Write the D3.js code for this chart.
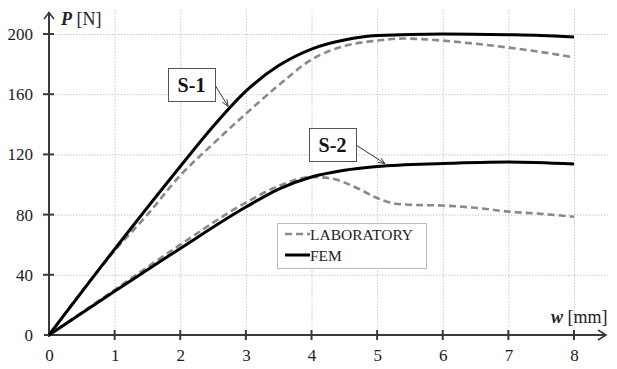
<!DOCTYPE html>
<html>
<head>
<meta charset="utf-8">
<script src="https://cdn.jsdelivr.net/npm/d3@7"></script>
<style>
  body { margin: 0; background: #fff; }
  svg text { font-family: "Liberation Serif", "Times New Roman", serif; }
</style>
</head>
<body>
<div id="chart"></div>
<script>
// values (w in mm, P in N)
const s1Fem = [[0, 0], [1, 57], [2, 112], [2.5, 138.5], [3, 162], [3.5, 179], [4, 190], [4.5, 196], [5, 199], [6, 200], [7, 199.5], [7.5, 199], [8, 198]]
const s1Lab = [[0, 0], [1, 56], [1.5, 80], [2, 106], [2.5, 127], [3, 147], [3.5, 166], [4, 183], [4.5, 192], [5, 195.6], [5.4, 197], [6, 195.6], [6.5, 193.5], [7, 191], [7.5, 188], [8, 184.5]]
const s2Fem = [[0, 0], [1, 29], [2, 57.5], [3, 85], [3.5, 97], [4, 105], [4.5, 109.5], [5, 112], [6, 114], [7, 115], [8, 113.6]]
const s2Lab = [[0, 0], [1, 30], [2, 60], [3, 88], [3.5, 99], [4, 105], [4.3, 104], [4.7, 97.5], [5, 91], [5.25, 87.5], [5.5, 86.5], [6, 86], [6.5, 84.5], [7, 82], [7.5, 80.5], [8, 78.6]]
const xTicks = [0, 1, 2, 3, 4, 5, 6, 7, 8]
const yTicks = [0, 40, 80, 120, 160, 200]
const legendLabels = ["LABORATORY", "FEM"]

const width = 617
const height = 369
const serif = "Liberation Serif, Times New Roman, serif"

const x = d3.scaleLinear().domain([0, 8]).range([49, 574])
const y = d3.scaleLinear().domain([0, 200]).range([335, 34])

const svg = d3.select("#chart")
  .append("svg")
    .attr("width", width)
    .attr("height", height)
    .attr("font-family", serif)

svg.append("rect").attr("width", width).attr("height", height).attr("fill", "#fff")

// grid
const grid = svg.append("g")
  .attr("stroke", "#c8c8c8")
  .attr("stroke-width", 1)
  .attr("stroke-dasharray", "1.5,1.5")
grid.selectAll("line.v")
  .data(xTicks.slice(1))
  .join("line")
    .attr("class", "v")
    .attr("x1", d => x(d) + 0.5).attr("x2", d => x(d) + 0.5)
    .attr("y1", y(0)).attr("y2", 10)
grid.selectAll("line.h")
  .data(yTicks.slice(1))
  .join("line")
    .attr("class", "h")
    .attr("x1", x(0)).attr("x2", 608)
    .attr("y1", d => y(d) + 0.5).attr("y2", d => y(d) + 0.5)

// axes
const axisColor = "#3a3a3a"
const xAxis = svg.append("g")
  .attr("transform", `translate(0,${y(0)})`)
  .call(d3.axisBottom(x).tickValues(xTicks).tickSize(0).tickPadding(14).tickFormat(d3.format("d")))
  .attr("font-family", serif)
  .attr("font-size", 17)
xAxis.select(".domain").remove()
xAxis.selectAll(".tick text").attr("fill", "#222")

const yAxis = svg.append("g")
  .attr("transform", `translate(${x(0)},0)`)
  .call(d3.axisLeft(y).tickValues(yTicks).tickSize(0).tickPadding(16).tickFormat(d3.format("d")))
  .attr("font-family", serif)
  .attr("font-size", 17)
yAxis.select(".domain").remove()
yAxis.selectAll(".tick text").attr("fill", "#222")

const axes = svg.append("g").attr("stroke", axisColor).attr("fill", "none").attr("stroke-width", 2)
axes.append("line").attr("x1", x(0) - 5).attr("x2", 606).attr("y1", y(0)).attr("y2", y(0))
axes.append("line").attr("x1", x(0)).attr("x2", x(0)).attr("y1", y(0) + 2).attr("y2", 12)
axes.append("path").attr("stroke-width", 1.6).attr("d", `M${x(0) - 5},19 L${x(0)},12.5 L${x(0) + 5},19`)
axes.append("path").attr("stroke-width", 1.6).attr("d", `M598,${y(0) - 5} L606,${y(0)} L598,${y(0) + 5}`)
axes.selectAll("line.xt")
  .data(xTicks.slice(1))
  .join("line")
    .attr("x1", d => x(d)).attr("x2", d => x(d))
    .attr("y1", y(0) - 5).attr("y2", y(0) + 5)
axes.selectAll("line.yt")
  .data(yTicks.slice(1))
  .join("line")
    .attr("x1", x(0) - 6).attr("x2", x(0) + 5)
    .attr("y1", d => y(d)).attr("y2", d => y(d))

// axis titles
const pLabel = svg.append("text").attr("x", 61).attr("y", 25).style("font-size", "18px").attr("fill", "#222")
pLabel.append("tspan").attr("font-weight", "bold").attr("font-style", "italic").text("P")
pLabel.append("tspan").text(" [N]")
const wLabel = svg.append("text").attr("x", 551).attr("y", 323).style("font-size", "18px").attr("fill", "#222")
wLabel.append("tspan").attr("font-weight", "bold").attr("font-style", "italic").text("w")
wLabel.append("tspan").text(" [mm]")

// curves
const line = d3.line()
  .x(d => x(d[0]))
  .y(d => y(d[1]))
  .curve(d3.curveMonotoneX)

const labStyle = p => p.attr("fill", "none").attr("stroke", "#8a8a8a").attr("stroke-width", 2.6).attr("stroke-dasharray", "7,4")
const femStyle = p => p.attr("fill", "none").attr("stroke", "#000").attr("stroke-width", 3)

svg.append("path").datum(s1Lab).attr("d", line).call(labStyle)
svg.append("path").datum(s2Lab).attr("d", line).call(labStyle)
svg.append("path").datum(s1Fem).attr("d", line).call(femStyle)
svg.append("path").datum(s2Fem).attr("d", line).call(femStyle)

// callouts
svg.append("defs").append("marker")
  .attr("id", "arr")
  .attr("viewBox", "0 0 10 10")
  .attr("refX", 10).attr("refY", 5)
  .attr("markerWidth", 7).attr("markerHeight", 7)
  .attr("orient", "auto")
  .append("path")
    .attr("d", "M0,1 L10,5 L0,9")
    .attr("fill", "none")
    .attr("stroke", "#333")
    .attr("stroke-width", 1.2)

const callouts = [
  { text: "S-1", bx: 168, by: 68, at: [2.73, 150.5] },
  { text: "S-2", bx: 309, by: 128, at: [5.12, 112.5] }
]
callouts.forEach(c => {
  const g = svg.append("g")
  g.append("line")
    .attr("x1", c.bx + 47).attr("y1", c.by + 17)
    .attr("x2", x(c.at[0])).attr("y2", y(c.at[1]) - 2)
    .attr("stroke", "#333").attr("stroke-width", 1)
    .attr("marker-end", "url(#arr)")
  g.append("rect")
    .attr("x", c.bx + 0.5).attr("y", c.by + 0.5)
    .attr("width", 47).attr("height", 33)
    .attr("fill", "#fff").attr("stroke", "#555").attr("stroke-width", 1)
  g.append("text")
    .attr("x", c.bx + 23.5).attr("y", c.by + 24)
    .attr("text-anchor", "middle")
    .attr("font-weight", "bold")
    .style("font-size", "20px")
    .attr("fill", "#111")
    .text(c.text)
})

// legend
const legend = svg.append("g").attr("transform", "translate(277,223)")
legend.append("rect")
  .attr("x", 0.5).attr("y", 0.5)
  .attr("width", 149).attr("height", 45)
  .attr("fill", "#fff").attr("stroke", "#bbb")
const items = legend.selectAll("g.item")
  .data(legendLabels)
  .join("g")
    .attr("transform", (d, i) => `translate(0,${11 + i * 21})`)
items.append("line")
  .attr("x1", 8).attr("x2", 33).attr("y1", 0).attr("y2", 0)
  .each(function (d, i) { d3.select(this).call(i === 0 ? labStyle : femStyle) })
items.append("text")
  .attr("x", 33).attr("y", 5.5)
  .style("font-size", "15.5px")
  .attr("fill", "#222")
  .text(d => d)
</script>
</body>
</html>
